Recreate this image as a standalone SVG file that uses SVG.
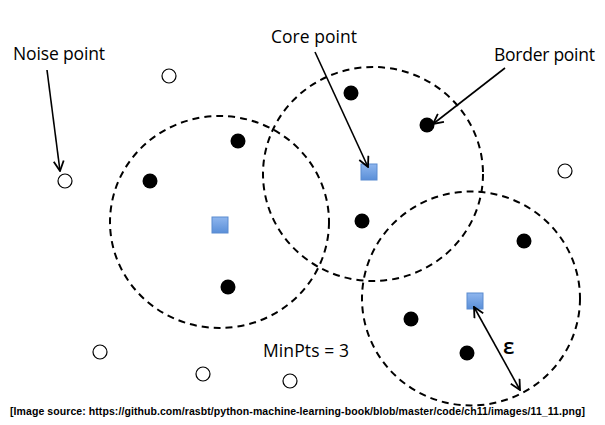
<svg xmlns="http://www.w3.org/2000/svg" width="605" height="425" viewBox="0 0 605 425">
<defs>
<linearGradient id="sq" x1="0" y1="0" x2="0" y2="1">
<stop offset="0" stop-color="#8fb6ee"/>
<stop offset="1" stop-color="#5a8fd8"/>
</linearGradient>
<marker id="ah" viewBox="0 0 12 12" refX="11" refY="6" markerWidth="12" markerHeight="12" markerUnits="userSpaceOnUse" orient="auto-start-reverse">
<path d="M1,1 L11,6 L1,11" fill="none" stroke="#000" stroke-width="1.8"/>
</marker>
</defs>
<style>
.rng{fill:none;stroke:#000;stroke-width:2;stroke-dasharray:7 5}
.core{fill:url(#sq);stroke:#5b8bd0;stroke-width:1}
.bord{fill:#000}
.noise{fill:#fff;stroke:#000;stroke-width:1.2}
.lbl{font-family:"Open Sans","Liberation Sans",sans-serif;font-size:17.5px;fill:#000}
.arr{fill:none;stroke:#000;stroke-width:1.6;marker-end:url(#ah)}
.src{font-family:"Liberation Sans",Arial,sans-serif;font-size:10.5px;font-weight:bold;fill:#000}
</style>
<g id="neighborhoods">
<ellipse id="ring-left" class="rng" cx="219.5" cy="222" rx="109.5" ry="106"/>
<ellipse id="ring-top" class="rng" cx="373" cy="174" rx="110" ry="107"/>
<ellipse id="ring-right" class="rng" cx="471" cy="298.5" rx="109" ry="107"/>
</g>
<g id="core-points">
<rect id="core1" class="core" x="212" y="217" width="16" height="16"/>
<rect id="core2" class="core" x="361" y="164" width="16" height="16"/>
<rect id="core3" class="core" x="467" y="293" width="16" height="16"/>
</g>
<g id="border-points">
<circle class="bord" cx="238" cy="141" r="7.5"/>
<circle class="bord" cx="150" cy="181" r="7.5"/>
<circle class="bord" cx="228" cy="287" r="7.5"/>
<circle class="bord" cx="351" cy="93" r="7.5"/>
<circle class="bord" cx="427" cy="125" r="7.5"/>
<circle class="bord" cx="362" cy="221" r="7.5"/>
<circle class="bord" cx="524" cy="241" r="7.5"/>
<circle class="bord" cx="411" cy="319" r="7.5"/>
<circle class="bord" cx="467" cy="353" r="7.5"/>
</g>
<g id="noise-points">
<circle class="noise" cx="169" cy="76" r="7"/>
<circle class="noise" cx="65" cy="181" r="7"/>
<circle class="noise" cx="565" cy="171" r="7"/>
<circle class="noise" cx="100" cy="352" r="7"/>
<circle class="noise" cx="203" cy="374" r="7"/>
<circle class="noise" cx="290" cy="381" r="7"/>
</g>
<g id="connectors">
<line class="arr" x1="47" y1="70" x2="60" y2="171"/>
<line class="arr" x1="315" y1="52" x2="368" y2="167"/>
<line class="arr" x1="505" y1="68" x2="433" y2="124"/>
<line class="arr" x1="474" y1="307" x2="520" y2="390" marker-start="url(#ah)"/>
</g>
<g id="labels">
<text class="lbl" x="13" y="60" textLength="92">Noise point</text>
<text class="lbl" x="271" y="43" textLength="86">Core point</text>
<text class="lbl" x="494" y="61" textLength="101">Border point</text>
<text class="lbl" x="263" y="357" textLength="86">MinPts = 3</text>
<text class="lbl" x="503" y="354" style="font-size:22px;font-weight:600">ε</text>
<text class="src" x="10" y="415" textLength="575">[Image source: https://github.com/rasbt/python-machine-learning-book/blob/master/code/ch11/images/11_11.png]</text>
</g>
</svg>
